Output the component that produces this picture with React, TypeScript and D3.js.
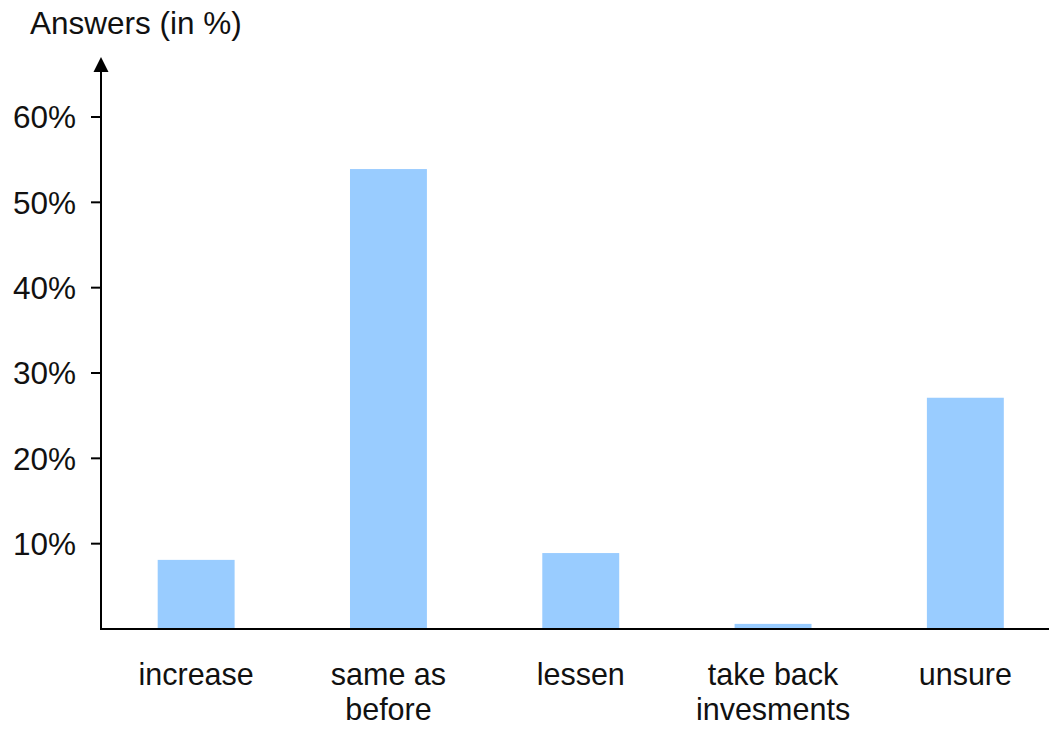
import React from "react";
import * as d3 from "d3";

const categories: string[][] = [
  ["increase"],
  ["same as", "before"],
  ["lessen"],
  ["take back", "invesments"],
  ["unsure"],
];
const values: number[] = [8.1, 53.9, 8.9, 0.6, 27.1];
const yTicks: number[] = [10, 20, 30, 40, 50, 60];
const yTitle = "Answers (in %)";

const W = 1049;
const H = 729;
const FONT = "Arial, 'Liberation Sans', Helvetica, sans-serif";

export default function App() {
  const x = d3
    .scaleBand<number>()
    .domain(values.map((_, i) => i))
    .range([100, 1061.5])
    .paddingInner(0.6)
    .paddingOuter(0.3);
  const y = d3.scaleLinear().domain([0, 60]).range([629, 117]);
  const axisX = 101;
  const base = y(0);

  return (
    <svg
      width={W}
      height={H}
      style={{ position: "absolute", left: 0, top: 0, background: "#fff" }}
      fontFamily={FONT}
    >
      <rect x={0} y={0} width={W} height={H} fill="#fff" />
      {values.map((v, i) => (
        <rect
          key={i}
          x={x(i)}
          y={y(v)}
          width={x.bandwidth()}
          height={base - y(v)}
          fill="#99CCFF"
        />
      ))}
      {/* y axis */}
      <line x1={axisX} x2={axisX} y1={66} y2={base + 1} stroke="#000" strokeWidth={2} />
      <path d={`M${axisX},57 L${axisX - 7.5},72 L${axisX + 7.5},72 Z`} fill="#000" />
      {/* x axis */}
      <line x1={axisX - 1} x2={W} y1={base} y2={base} stroke="#000" strokeWidth={2} />
      {yTicks.map((t) => (
        <g key={t}>
          <line x1={axisX - 10} x2={axisX} y1={y(t)} y2={y(t)} stroke="#000" strokeWidth={2} />
          <text
            x={76}
            y={y(t)}
            dy="0.36em"
            textAnchor="end"
            fontSize={31.5}
            fill="#111"
          >
            {t}%
          </text>
        </g>
      ))}
      <text x={30} y={34} fontSize={31.5} fill="#111">
        {yTitle}
      </text>
      {categories.map((lines, i) => (
        <text
          key={i}
          x={(x(i) as number) + x.bandwidth() / 2}
          y={685}
          textAnchor="middle"
          fontSize={30.5}
          fill="#111"
        >
          {lines.map((l, j) => (
            <tspan key={j} x={(x(i) as number) + x.bandwidth() / 2} dy={j === 0 ? 0 : 35}>
              {l}
            </tspan>
          ))}
        </text>
      ))}
    </svg>
  );
}
